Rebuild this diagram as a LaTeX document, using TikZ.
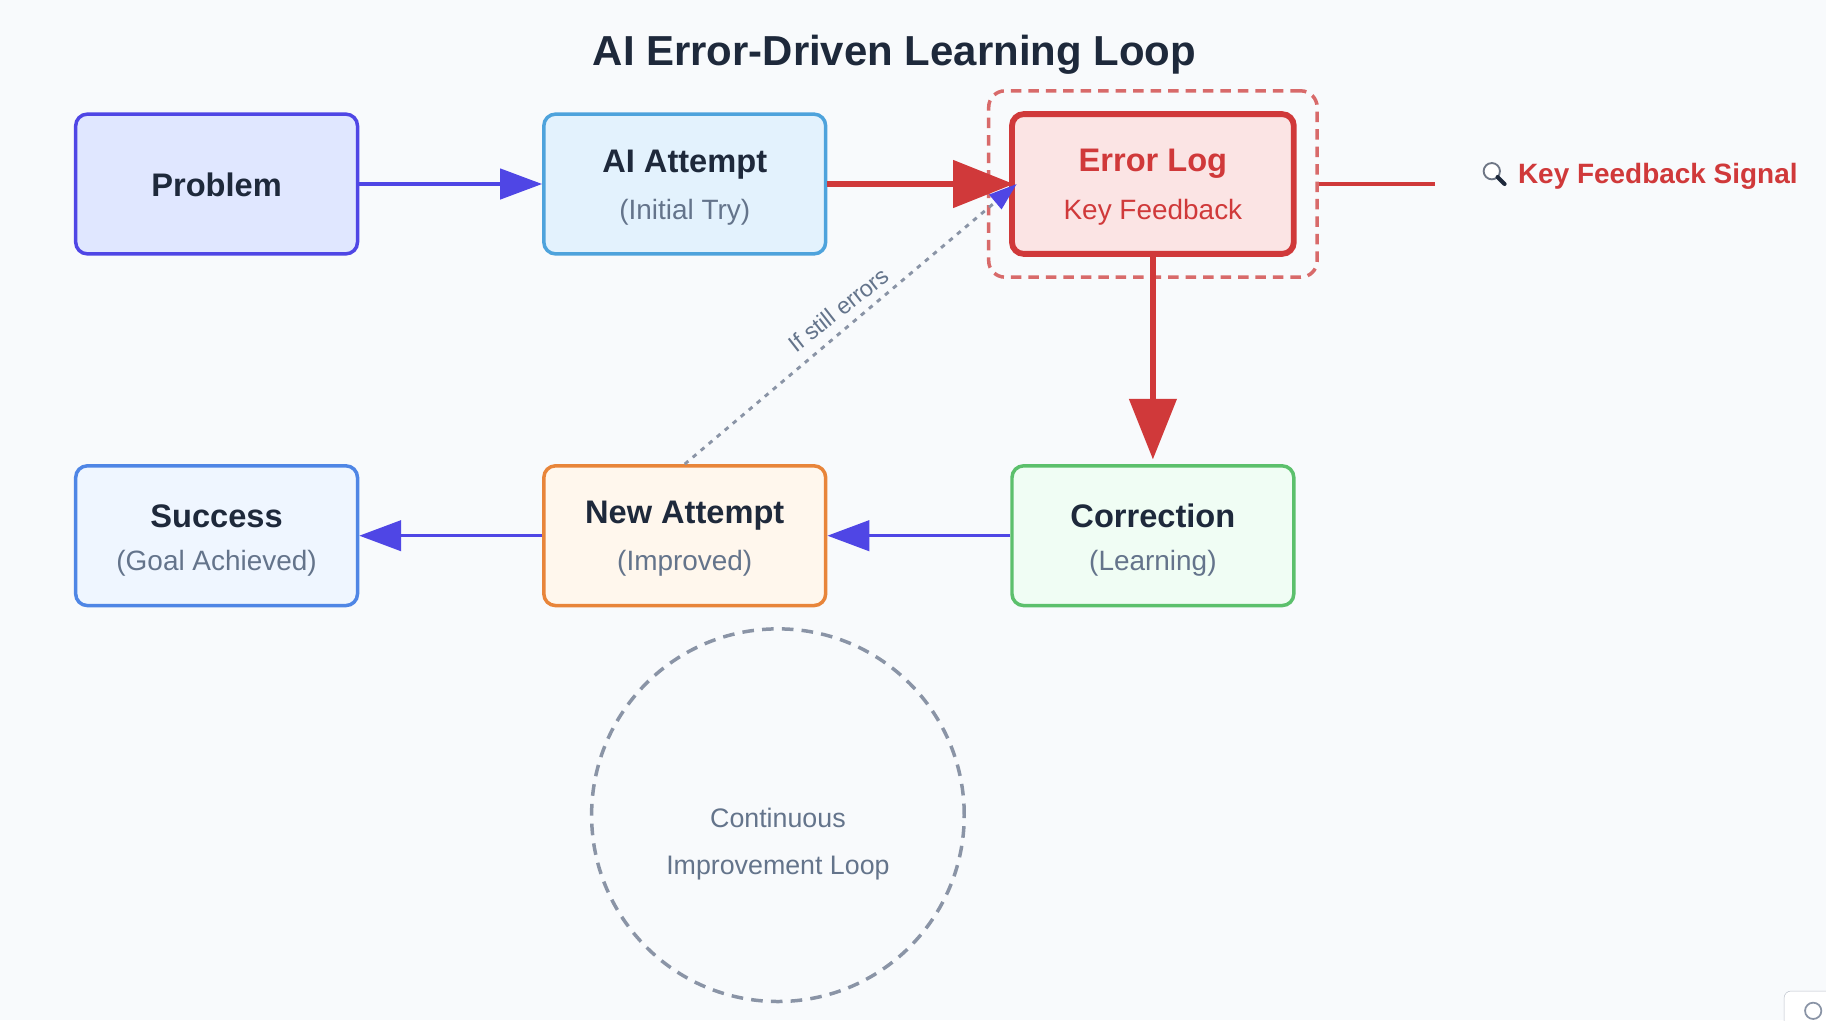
\documentclass[tikz,border=0pt]{standalone}
\usepackage{fontspec}
\setmainfont{Liberation Sans}
\usetikzlibrary{arrows.meta}
\definecolor{bg}{HTML}{F8FAFC}
\definecolor{pur}{HTML}{4F46E5}
\definecolor{redc}{HTML}{D0393A}
\definecolor{grayt}{HTML}{64748B}
\definecolor{dark}{HTML}{1E293B}
\definecolor{blueb}{HTML}{4EA3DC}
\definecolor{bluef}{HTML}{E3F2FD}
\definecolor{redf}{HTML}{FBE4E4}
\definecolor{greenb}{HTML}{5CC06C}
\definecolor{greenf}{HTML}{F0FDF4}
\definecolor{orb}{HTML}{E8853A}
\definecolor{orf}{HTML}{FFF7ED}
\definecolor{sucb}{HTML}{4F86E5}
\definecolor{sucf}{HTML}{EFF6FF}
\definecolor{probf}{HTML}{E0E7FF}
\definecolor{dash}{HTML}{D86A6A}
\definecolor{lg}{HTML}{8A94A6}
\begin{document}
\begin{tikzpicture}[x=1pt,y=-1pt,
 box/.style={rounded corners=10pt,minimum width=242pt,minimum height=120pt,line width=3pt,inner sep=0pt},
 ttl/.style={font=\bfseries\fontsize{28}{32}\selectfont,text=dark},
 sub/.style={font=\fontsize{24}{28}\selectfont,text=grayt},
 parr/.style={pur,line width=3pt,-{Triangle[length=36pt,width=26pt]}},
 rarr/.style={redc,line width=5pt,-{Triangle[length=52pt,width=40pt]}}]
\fill[bg] (0,0) rectangle (1568,876);
\useasboundingbox (0,0) rectangle (1568,876);
\node[font=\bfseries\fontsize{36}{42}\selectfont,text=dark] (title) at (768,47) {AI Error-Driven Learning Loop};
% boxes
\node[box,draw=pur,fill=probf] (prob) at (186,158) {};
\node[ttl] (probt) at (186,159) {Problem};
\node[box,draw=blueb,fill=bluef] (ai) at (588,158) {};
\node[ttl] (ait) at (588,141) {AI Attempt};
\node[sub] (ais) at (588,182) {(Initial Try)};
\node[draw=dash,line width=3pt,dash pattern=on 9pt off 6pt,rounded corners=14pt,minimum width=282pt,minimum height=160pt] (hl) at (990,158) {};
\node[box,draw=redc,fill=redf,line width=5pt] (err) at (990,158) {};
\node[ttl,text=redc] (errt) at (990,141) {Error Log};
\node[sub,text=redc] (errs) at (990,182) {Key Feedback};
\node[box,draw=greenb,fill=greenf] (cor) at (990,460) {};
\node[ttl] (cort) at (990,443) {Correction};
\node[sub] (cors) at (990,484) {(Learning)};
\node[box,draw=orb,fill=orf] (new) at (588,460) {};
\node[ttl] (newt) at (588,443) {New Attempt};
\node[sub] (news) at (588,484) {(Improved)};
\node[box,draw=sucb,fill=sucf] (suc) at (186,460) {};
\node[ttl] (suct) at (186,443) {Success};
\node[sub] (sucs) at (186,484) {(Goal Achieved)};
% arrows
\draw[parr] (prob.east) -- (ai.west);
\draw[rarr] (ai.east) -- ([xshift=4pt]err.west);
\draw[rarr] (err.south) -- ([yshift=4pt]cor.north);
\draw[parr] (cor.west) -- (new.east);
\draw[parr] (new.west) -- (suc.east);
\coordinate (dtip) at (873,158);
\draw[lg,line width=2.5pt,dash pattern=on 4pt off 5pt,-{Triangle[length=24pt,width=16pt,color=pur,fill=pur]}] (new.north) -- (dtip);
\node[text=grayt,font=\fontsize{20}{24}\selectfont,rotate=38] (lbl) at (720,266) {If still errors};
% key feedback
\coordinate (kfe) at (1232,158);
\draw[redc,line width=3pt] (hl.east) -- (kfe);
\node[font=\bfseries\fontsize{24}{28}\selectfont,text=redc,anchor=west] (kf) at (1300,151) {Key Feedback Signal};
\begin{scope}[shift={(1284,150)}]
\fill[white] (-3,-3) circle (7);
\draw[lg!80!black,line width=1.6pt] (-3,-3) circle (7);
\draw[dark,line width=3.5pt,line cap=round] (2,2) -- (8,8);
\end{scope}
% circle
\node[circle,draw=lg,line width=3pt,dash pattern=on 10pt off 7pt,minimum size=320pt] (loop) at (668,700) {};
\node[sub,align=center,font=\fontsize{23}{40}\selectfont] (loopt) at (668,725) {Continuous\\Improvement Loop};
% corner widget
\node[draw=lg!60,fill=white,rounded corners=6pt,minimum width=60pt,minimum height=50pt] (wid) at (1562,876) {};
\draw[lg,line width=1.5pt] (1557,868) circle (7);
\end{tikzpicture}
\end{document}
